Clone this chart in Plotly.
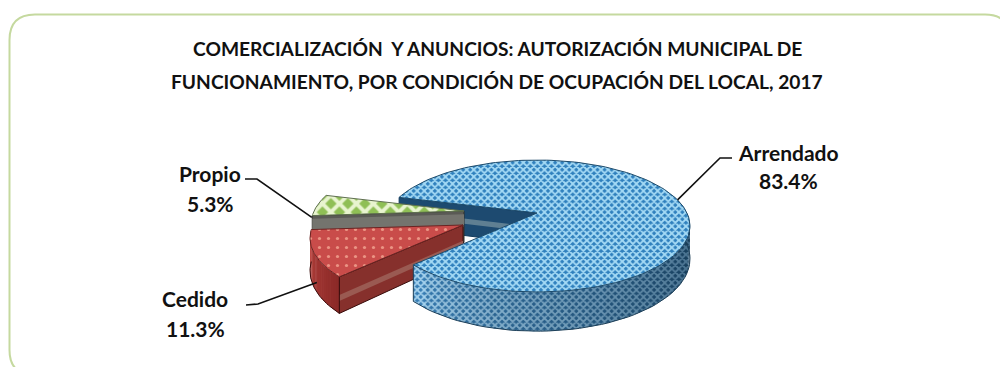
import math
import plotly.graph_objects as go

categories = ["Arrendado", "Cedido", "Propio"]
values = [83.4, 11.3, 5.3]
title_lines = ["COMERCIALIZACIÓN  Y ANUNCIOS: AUTORIZACIÓN MUNICIPAL DE",
               "FUNCIONAMIENTO, POR CONDICIÓN DE OCUPACIÓN DEL LOCAL, 2017"]

# projection of the tilted pie
R, H, K, DEPTH = 150, 63.4, 0.197, 31.5
START = 195
APEX = {"Arrendado": (537, 213), "Cedido": (463, 225), "Propio": (464, 211)}
FONT = "Lato"


def rim(apex, a, drop=0.0):
    t = math.radians(a)
    s = 1 / (1 - K * math.sin(t))
    return apex[0] + R * math.cos(t) * s, apex[1] + H * math.sin(t) * s + drop * DEPTH * s


def arc(apex, a0, a1, drop=0.0, n=60):
    return [rim(apex, a0 + (a1 - a0) * i / n, drop) for i in range(n + 1)]


def poly(fig, pts, fill=None, pattern=None, line=None, width=1, close=True):
    xs = [p[0] for p in pts] + ([pts[0][0]] if close else [])
    ys = [p[1] for p in pts] + ([pts[0][1]] if close else [])
    kw = dict(x=xs, y=ys, mode="lines", hoverinfo="skip", showlegend=False,
              line=dict(color=line or "rgba(0,0,0,0)", width=width if line else 0))
    if fill or pattern:
        kw["fill"] = "toself"
        kw["fillcolor"] = fill or "rgba(0,0,0,0)"
    if pattern:
        kw["fillpattern"] = pattern
    fig.add_trace(go.Scatter(**kw))


def mix(c0, c1, f):
    return "#" + "".join(f"{round(a + (b - a) * f):02x}" for a, b in zip(c0, c1))


# angular spans derived from the values
total = sum(values)
spans = {}
a = START
for c, v in zip(categories, values):
    spans[c] = (a, a + v / total * 360)
    a = spans[c][1]
b0, b1 = spans["Arrendado"]
r0, r1 = spans["Cedido"]
g0, g1 = spans["Propio"]
b1n = b1 - 360

fig = go.Figure()


def wall(apex, a, base, band, edge, f0=.45, f1=.62):
    top = [rim(apex, a), apex]
    bottom = [(apex[0], apex[1] + DEPTH), rim(apex, a, 1)]
    poly(fig, top + bottom, fill=base, line=edge)
    mid = [rim(apex, a, f0), (apex[0], apex[1] + DEPTH * f0),
           (apex[0], apex[1] + DEPTH * f1), rim(apex, a, f1)]
    poly(fig, mid, fill=band)


# blue inner wall of the notch (furthest back)
A = APEX["Arrendado"]
wall(A, b0, "#1d4a70", "#5f7f92", "#123a5c")

# green slice
G = APEX["Propio"]
wall(G, g0, "#5a5a55", "#74746e", "#2e2e2a", .1, .5)
poly(fig, [G] + arc(G, g0, g1), fill="#9ccb5a",
     pattern=dict(shape="x", size=12, solidity=.55, fgcolor="#e8f4cf", bgcolor="#8fbf55", fillmode="replace"),
     line="#5f6f50")

# red slice
C = APEX["Cedido"]
wall(C, r0, "#86302c", "#9a5a52", "#3a0d0c", .5, .66)
n_red = 24
for i in range(n_red):
    x0 = r0 + (r1 - r0) * i / n_red
    x1 = r0 + (r1 - r0) * (i + 1.3) / n_red
    col = mix((140, 42, 40), (190, 70, 65), i / (n_red - 1))
    poly(fig, arc(C, x0, x1, 0, 4) + arc(C, x1, x0, 1, 4), fill=col)
poly(fig, arc(C, r0, r1, 1, 30), line="#3a0d0c", close=False)
poly(fig, [rim(C, r0), rim(C, r0, 1)], line="#3a0d0c", close=False)
poly(fig, [C] + arc(C, r0, r1), fill="#cf4f4c",
     pattern=dict(shape=".", size=9, solidity=.1, fgcolor="#eb9484", bgcolor="#c94c4a", fillmode="replace"),
     line="#6a2422")

# blue outer wall, shaded along the rim, then blue top
n_blue = 24
side_end = -11
for i in range(n_blue):
    f = i / (n_blue - 1)
    x0 = b1n + (side_end - b1n) * i / n_blue
    x1 = b1n + (side_end - b1n) * (i + 1.3) / n_blue
    bg = mix((55, 125, 180), (18, 52, 78), f ** .7)
    fg = mix((165, 210, 238), (58, 98, 128), f ** .7)
    poly(fig, arc(A, x0, x1, 0, 4) + arc(A, x1, x0, 1, 4), fill=bg,
         pattern=dict(shape="x", size=5, solidity=.6, fgcolor=fg, bgcolor=bg, fillmode="replace"))
poly(fig, arc(A, b1n, side_end, 1, 60), line="#1d3f58", close=False)
poly(fig, [rim(A, b1n), rim(A, b1n, 1)], line="#1d3f58", close=False)
poly(fig, [A] + arc(A, b0, b1, 0, 140), fill="#4d9fd6",
     pattern=dict(shape="x", size=5, solidity=.6, fgcolor="#a4daf5", bgcolor="#2f80bd", fillmode="replace"),
     line="#1d4a6a")

# leader lines (anchored on the slices' rims)
leaders = {"Arrendado": [(732, 158), (720, 158), rim(A, 347.6)],
           "Propio": [(245, 179), (257, 179), rim(G, g0 - 1.5)],
           "Cedido": [(246, 305), (258, 304), rim(C, r0 + 17, .72)]}
for c, pts in leaders.items():
    fig.add_trace(go.Scatter(x=[p[0] for p in pts], y=[p[1] for p in pts], mode="lines",
                             line=dict(color="#111111", width=1.6), hoverinfo="skip", showlegend=False))

label_pos = {"Arrendado": (788, 152, 180), "Propio": (210, 173, 203), "Cedido": (195, 298, 328)}
notes = []
for c, v in zip(categories, values):
    x, y1, y2 = label_pos[c]
    notes.append(dict(x=x, y=y1, text=f"<b>{c}</b>"))
    notes.append(dict(x=x, y=y2, text=f"<b>{v:.1f}%</b>"))
for n in notes:
    n.update(xref="x", yref="y", showarrow=False, xanchor="center", yanchor="middle",
             font=dict(family=FONT, size=21, color="#111111"))
for y, t in zip((48, 81), title_lines):
    notes.append(dict(x=497, y=y, xref="x", yref="y", showarrow=False, xanchor="center", yanchor="middle",
                      text=f"<b>{t}</b>", font=dict(family=FONT, size=19.2, color="#111111")))

frame = "M 9.5 40 Q 9.5 14.5 35 14.5 L 985 14.5 Q 1010 14.5 1010 40 L 1010 375 L 35 375 Q 9.5 375 9.5 350 Z"
fig.update_layout(
    width=1000, height=367, margin=dict(l=0, r=0, t=0, b=0, pad=0),
    paper_bgcolor="white", plot_bgcolor="white", showlegend=False,
    xaxis=dict(range=[0, 1000], visible=False, fixedrange=True),
    yaxis=dict(range=[367, 0], visible=False, fixedrange=True),
    annotations=notes,
    shapes=[dict(type="path", path=frame, xref="x", yref="y", layer="below",
                 line=dict(color="#c5d99f", width=2))],
)
fig.write_html("out.html", config={"displayModeBar": False},
               post_script="document.body.style.margin='0';document.documentElement.style.overflow='hidden';")
